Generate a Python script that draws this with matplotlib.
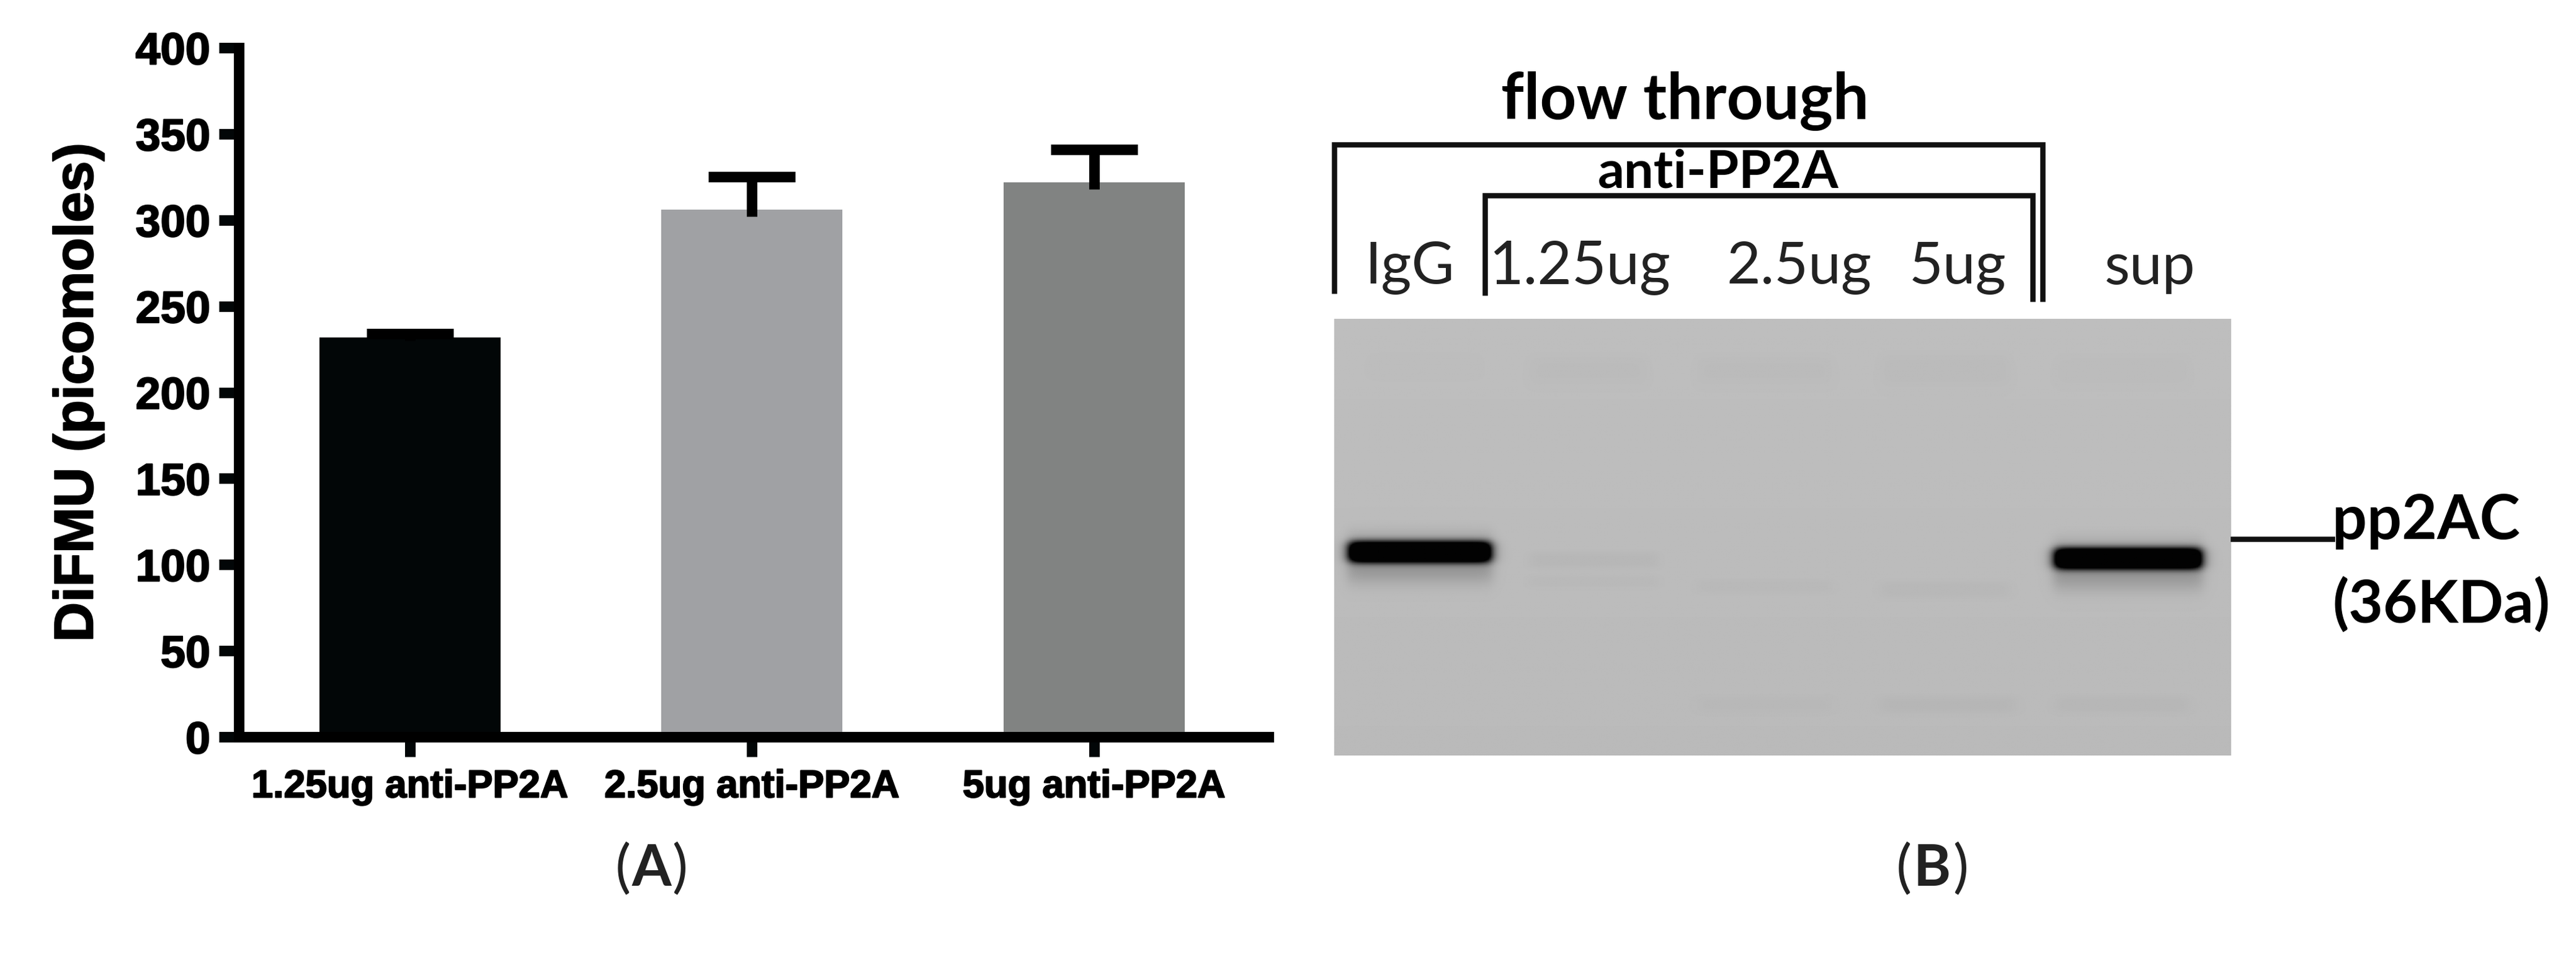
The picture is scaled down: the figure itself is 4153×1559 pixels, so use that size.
import numpy as np
import matplotlib
matplotlib.use('Agg')
import matplotlib.pyplot as plt
import matplotlib.patheffects as pe

W, H = 4153, 1559

# panel A values
categories = ['1.25ug anti-PP2A', '2.5ug anti-PP2A', '5ug anti-PP2A']
means = [232, 306, 322]
err_top = [234, 325, 341]
err_low = [230, 302, 318]
bar_colors = ['#020607', '#a0a1a4', '#818382']
y_ticks = [0, 50, 100, 150, 200, 250, 300, 350, 400]

# panel B gel bands: lane start, lane end, row, half thickness, darkness (all in gel pixels)
band_x0 = [9, 439, 8, 438, 119, 119, 221, 333, 20, 119, 221, 333, 440, 221, 333, 440]
band_x1 = [95, 528, 96, 529, 197, 197, 303, 411, 90, 190, 303, 411, 520, 303, 415, 520]
band_y = [142, 146, 146, 150, 147, 160, 163, 165, 28, 31, 31, 31, 31, 235, 235, 235]
band_h = [6.5, 6.5, 15, 15, 5, 4, 4, 5, 8, 9, 9, 10, 9, 5, 5, 5]
band_dark = [300, 300, 40, 40, 5, 3, 3, 4, 1, 2.5, 2.5, 3, 2, 2.5, 4.5, 4]


def lw(p):
    # line width in pixels to points
    return p * 72 / 100


fig = plt.figure(figsize=(W / 100, H / 100), dpi=100)
heavy = [pe.withStroke(linewidth=1.5, foreground='black')]

# ---- panel A
left, right, top, bottom = 385, 2045, 77, 1188
ax = fig.add_axes([left / W, 1 - bottom / H, (right - left) / W, (bottom - top) / H])
xpos = np.arange(len(categories))
ax.bar(xpos, means, width=0.53, color=bar_colors, zorder=2)
ax.vlines(xpos, err_low, err_top, color='black', linewidth=lw(17), zorder=3)
ax.hlines(err_top, xpos - 0.127, xpos + 0.127, color='black', linewidth=lw(17), zorder=3)
ax.set_xlim(-0.5, 2.51)
ax.set_ylim(0, 400)
ax.spines['top'].set_visible(False)
ax.spines['right'].set_visible(False)
ax.spines['left'].set_linewidth(lw(17))
ax.spines['bottom'].set_linewidth(lw(17))
ax.spines['left'].set_bounds(0, 400)
ax.set_yticks(y_ticks)
ax.set_xticks(xpos)
ax.set_xticklabels(categories, family='Liberation Sans', fontweight='bold', fontsize=45, path_effects=heavy)
ax.set_yticklabels([str(t) for t in y_ticks], family='Liberation Sans', fontweight='bold', fontsize=52, path_effects=heavy)
ax.tick_params(axis='y', length=23, width=lw(17), pad=10, color='#020607')
ax.tick_params(axis='x', length=23, width=lw(17), pad=14, color='#020607')
ax.set_ylabel('DiFMU (picomoles)', family='Liberation Sans', fontweight='bold', fontsize=64, labelpad=36, path_effects=heavy)

# ---- panel B gel, built from the band table
gel_w, gel_h = 546, 266
xx, yy = np.meshgrid(np.linspace(0, gel_w, 1092), np.linspace(0, gel_h, 532))
gel = 190.0 - 4.0 * yy / gel_h
for x0, x1, yc, h, d in zip(band_x0, band_x1, band_y, band_h, band_dark):
    across = 0.5 * (np.tanh((xx - x0) / 4) - np.tanh((xx - x1) / 4))
    down = np.exp(-np.abs((yy - yc) / h) ** 3)
    gel = gel - d * across * down
gel = np.clip(gel, 2, 255)

ax_gel = fig.add_axes([2151 / W, 1 - 1218 / H, (3597 - 2151) / W, (1218 - 514) / H])
ax_gel.imshow(gel, cmap='gray', vmin=0, vmax=255, aspect='auto', extent=(0, gel_w, gel_h, 0))
ax_gel.axis('off')

# ---- brackets and labels, on a figure wide overlay in pixel coordinates
over = fig.add_axes([0, 0, 1, 1], facecolor='none')
over.set_xlim(0, W)
over.set_ylim(H, 0)
over.axis('off')
over.plot([2151, 2151, 3293, 3293], [469, 233, 233, 482], color='#111111', linewidth=lw(8.5), solid_joinstyle='miter')
over.plot([2394, 2394, 3277, 3277], [472, 315, 315, 482], color='#111111', linewidth=lw(8.5), solid_joinstyle='miter')
over.plot([3600, 3760], [869, 869], color='#111111', linewidth=lw(8.5))

font_b = 'Lato'
over.text(2717, 163, 'flow through', family=font_b, fontweight='bold', fontsize=74, ha='center', va='center')
over.text(2770, 278, 'anti-PP2A', family=font_b, fontweight='bold', fontsize=61, ha='center', va='center')
over.text(2273, 432, 'IgG', family=font_b, fontsize=68, ha='center', va='center', color='#222222')
over.text(2547, 432, '1.25ug', family=font_b, fontsize=69, ha='center', va='center', color='#222222')
over.text(2900, 432, '2.5ug', family=font_b, fontsize=68, ha='center', va='center', color='#222222')
over.text(3156, 432, '5ug', family=font_b, fontsize=68, ha='center', va='center', color='#222222')
over.text(3466, 432, 'sup', family=font_b, fontsize=68, ha='center', va='center', color='#222222')
over.text(3760, 840, 'pp2AC', family=font_b, fontweight='bold', fontsize=71, ha='left', va='center')
over.text(3760, 975, '(36KDa)', family=font_b, fontweight='bold', fontsize=69, ha='left', va='center')

# panel letters are bold, their brackets are not
for cx, cy, letter in [(1050, 1402, 'A'), (3115, 1402, 'B')]:
    over.text(cx - 46, cy, '(', family=font_b, fontsize=68, ha='center', va='center', color='#222222')
    over.text(cx, cy, letter, family=font_b, fontweight='bold', fontsize=66, ha='center', va='center', color='#222222')
    over.text(cx + 46, cy, ')', family=font_b, fontsize=68, ha='center', va='center', color='#222222')

fig.savefig('out.png', dpi=100)
